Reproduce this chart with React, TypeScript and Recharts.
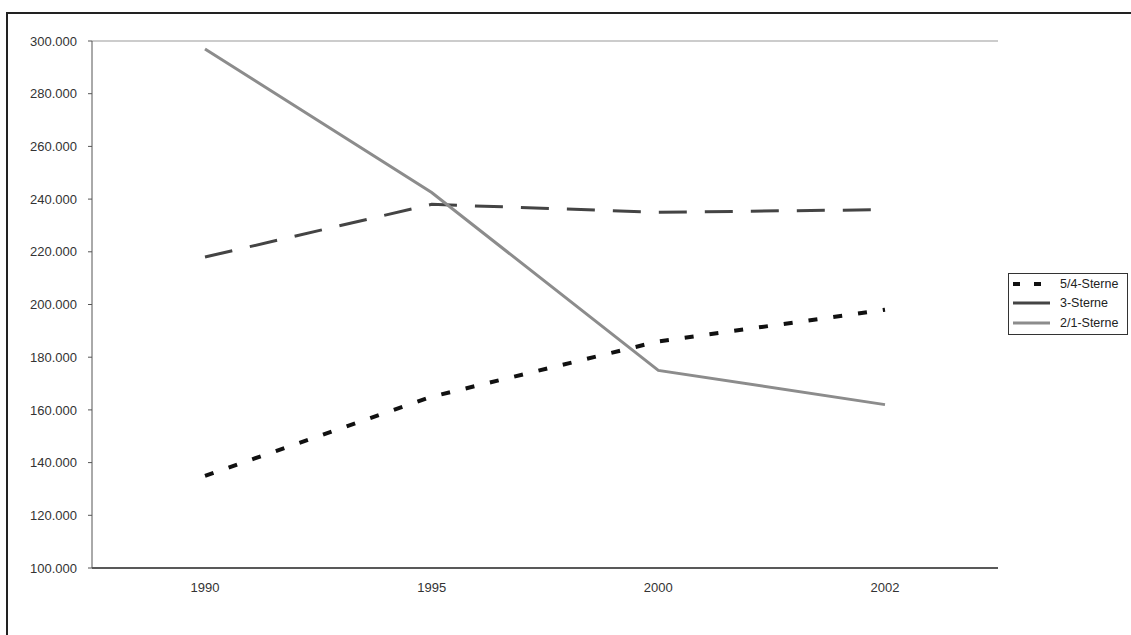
import { LineChart, Line, XAxis, YAxis, CartesianGrid, Legend } from "recharts";

const years = ["1990", "1995", "2000", "2002"];
const sterne54 = [135000, 165000, 186000, 198000];
const sterne3 = [218000, 238000, 235000, 236000];
const sterne21 = [297000, 242500, 175000, 162000];
const yTicks = [100000, 120000, 140000, 160000, 180000, 200000, 220000, 240000, 260000, 280000, 300000];

const FONT = "'Liberation Sans', Arial, sans-serif";

const data = years.map((y, i) => ({
  year: y,
  s54: sterne54[i],
  s3: sterne3[i],
  s21: sterne21[i],
}));

const fmt = (v: number) => v.toLocaleString("de-DE");

const legendItems = [
  { label: "5/4-Sterne", stroke: "#111", width: 4, dash: "7 14" },
  { label: "3-Sterne", stroke: "#444", width: 3, dash: undefined },
  { label: "2/1-Sterne", stroke: "#8c8c8c", width: 3, dash: undefined },
];

function LegendBox() {
  return (
    <div
      style={{
        border: "1px solid #333",
        background: "#fff",
        padding: "0 0 1px 3px",
        fontFamily: FONT,
        fontSize: 12.5,
        color: "#222",
        boxSizing: "border-box",
      }}
    >
      {legendItems.map((it) => (
        <div key={it.label} style={{ display: "flex", alignItems: "center", height: 19.5 }}>
          <svg width={48} height={10}>
            <line
              x1={1}
              y1={5}
              x2={38}
              y2={5}
              stroke={it.stroke}
              strokeWidth={it.width}
              strokeDasharray={it.dash}
            />
          </svg>
          <span>{it.label}</span>
        </div>
      ))}
    </div>
  );
}

export default function App() {
  return (
    <div style={{ position: "absolute", left: 0, top: 0, width: 1131, height: 635, background: "#fff", overflow: "hidden" }}>
      <div
        style={{
          position: "absolute",
          left: 6,
          top: 12,
          width: 1200,
          height: 700,
          borderLeft: "2px solid #222",
          borderTop: "2px solid #222",
        }}
      />
      <div style={{ position: "absolute", left: 0, top: 0 }}>
        <LineChart width={1131} height={635} data={data} margin={{ top: 41, right: 133, bottom: 37, left: 0 }}>
          <CartesianGrid vertical={false} stroke="#999" strokeWidth={1} />
          <XAxis
            dataKey="year"
            padding={{ left: 113, right: 113 }}
            tick={{ fill: "#333", fontSize: 13, fontFamily: FONT }}
            tickLine={false}
            tickMargin={9}
            axisLine={{ stroke: "#333", strokeWidth: 1.5 }}
          />
          <YAxis
            yAxisId="l"
            width={92}
            domain={[100000, 300000]}
            ticks={yTicks}
            tickFormatter={fmt}
            tick={{ fill: "#333", fontSize: 13, fontFamily: FONT }}
            tickSize={4}
            tickMargin={11}
            tickLine={{ stroke: "#555" }}
            axisLine={{ stroke: "#555" }}
          />
          <YAxis
            yAxisId="r"
            orientation="right"
            width={0}
            domain={[100000, 300000]}
            tick={false}
            tickLine={false}
            axisLine={{ stroke: "#777" }}
          />
          <Legend
            align="center"
            verticalAlign="middle"
            layout="horizontal"
            wrapperStyle={{ left: 1008, top: 273, width: 120 }}
            content={() => <LegendBox />}
          />
          <Line
            yAxisId="l"
            type="linear"
            dataKey="s54"
            name="5/4-Sterne"
            stroke="#111"
            strokeWidth={4}
            strokeDasharray="9 16"
            dot={false}
            isAnimationActive={false}
          />
          <Line
            yAxisId="l"
            type="linear"
            dataKey="s3"
            name="3-Sterne"
            stroke="#444"
            strokeWidth={3}
            strokeDasharray="28 18"
            dot={false}
            isAnimationActive={false}
          />
          <Line
            yAxisId="l"
            type="linear"
            dataKey="s21"
            name="2/1-Sterne"
            stroke="#8c8c8c"
            strokeWidth={3}
            dot={false}
            isAnimationActive={false}
          />
        </LineChart>
      </div>
    </div>
  );
}
